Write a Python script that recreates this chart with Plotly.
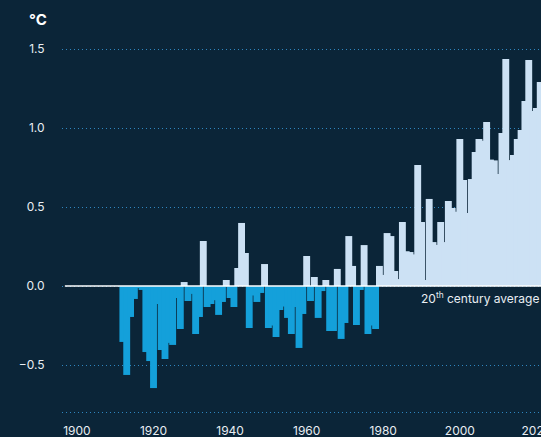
import plotly.graph_objects as go

# Annual temperature anomaly relative to the 20th century average (°C)
years = list(range(1912, 2022))
anomaly = [
    -0.354, -0.563, -0.196, -0.082, -0.010, -0.025, -0.418, -0.475, -0.646, -0.114,  # 1912-1921
    -0.405, -0.462, -0.360, -0.373, -0.076, -0.272, 0.025, -0.095, -0.050, -0.304,   # 1922-1931
    -0.196, 0.285, -0.133, -0.114, -0.090, -0.183, -0.101, 0.038, -0.076, -0.133,    # 1932-1941
    0.114, 0.399, 0.209, -0.266, -0.060, -0.101, -0.044, 0.139, -0.266, -0.250,      # 1942-1951
    -0.323, -0.152, -0.130, -0.202, -0.304, -0.133, -0.392, -0.177, 0.190, -0.095,   # 1952-1961
    0.057, -0.202, -0.032, 0.038, -0.285, -0.285, 0.108, -0.335, -0.234, 0.316,      # 1962-1971
    0.127, -0.247, -0.025, 0.259, -0.304, -0.250, -0.272, 0.127, 0.070, 0.335,       # 1972-1981
    0.316, 0.095, 0.044, 0.405, 0.220, 0.215, 0.200, 0.766, 0.405, 0.038,            # 1982-1991
    0.551, 0.278, 0.260, 0.405, 0.278, 0.538, 0.494, 0.470, 0.930, 0.671,            # 1992-2001
    0.462, 0.677, 0.848, 0.930, 0.920, 1.038, 0.800, 0.795, 0.709, 0.968,            # 2002-2011
    1.437, 0.797, 0.829, 0.930, 0.987, 1.171, 1.430, 1.108, 1.127, 1.291,            # 2012-2021
]

x_tick_years = [1900, 1920, 1940, 1960, 1980, 2000, 2020]
y_tick_values = [-0.8, -0.5, 0.0, 0.5, 1.0, 1.5]
y_tick_labels = ["", "\u22120.5", "0.0", "0.5", "1.0", "1.5"]

BG = "#0b2538"
WARM = "#cce1f4"
COOL = "#14a0da"
GRID = "#2f86bf"
TEXT = "#e9eef3"
FONT = "Inter"

bar_colors = [WARM if v >= 0 else COOL for v in anomaly]

fig = go.Figure(
    go.Bar(
        x=years,
        y=anomaly,
        width=1.8,
        marker=dict(color=bar_colors, line=dict(width=0)),
        hoverinfo="skip",
    )
)

fig.update_layout(
    width=541,
    height=437,
    margin=dict(l=62, r=0, t=30, b=21),
    paper_bgcolor=BG,
    plot_bgcolor=BG,
    showlegend=False,
    font=dict(family=FONT, size=12, color=TEXT),
    xaxis=dict(
        range=[1896.1, 2021.2],
        tickvals=x_tick_years,
        ticktext=[str(y) for y in x_tick_years],
        automargin=False,
        ticklabeloverflow="allow",
        showgrid=False,
        zeroline=False,
        showline=False,
        ticks="outside",
        ticklen=4,
        tickcolor="rgba(0,0,0,0)",
        tickfont=dict(family=FONT, size=12, color=TEXT),
    ),
    yaxis=dict(
        range=[-0.8228, 1.6203],
        tickvals=y_tick_values,
        ticktext=y_tick_labels,
        automargin=False,
        showgrid=True,
        gridcolor=GRID,
        gridwidth=1,
        griddash="1px,3px",
        zeroline=False,
        showline=False,
        ticks="outside",
        ticklen=14,
        tickcolor="rgba(0,0,0,0)",
        tickfont=dict(family=FONT, size=12, color=TEXT),
    ),
    shapes=[
        dict(
            type="line",
            xref="paper",
            yref="y",
            x0=0.006,
            x1=1,
            y0=0,
            y1=0,
            line=dict(color="#ffffff", width=1.5),
            layer="above",
        )
    ],
    annotations=[
        dict(
            text="<b>°C</b>",
            xref="paper",
            yref="paper",
            x=-0.073,
            y=1.026,
            xanchor="left",
            yanchor="middle",
            showarrow=False,
            font=dict(family=FONT, size=15, color="#ffffff"),
        ),
        dict(
            text="20<sup>th</sup> century average",
            xref="paper",
            yref="y",
            x=0.745,
            y=-0.076,
            xanchor="left",
            yanchor="middle",
            showarrow=False,
            font=dict(family=FONT, size=12, color=TEXT),
        ),
    ],
)

fig.write_html("out.html")
